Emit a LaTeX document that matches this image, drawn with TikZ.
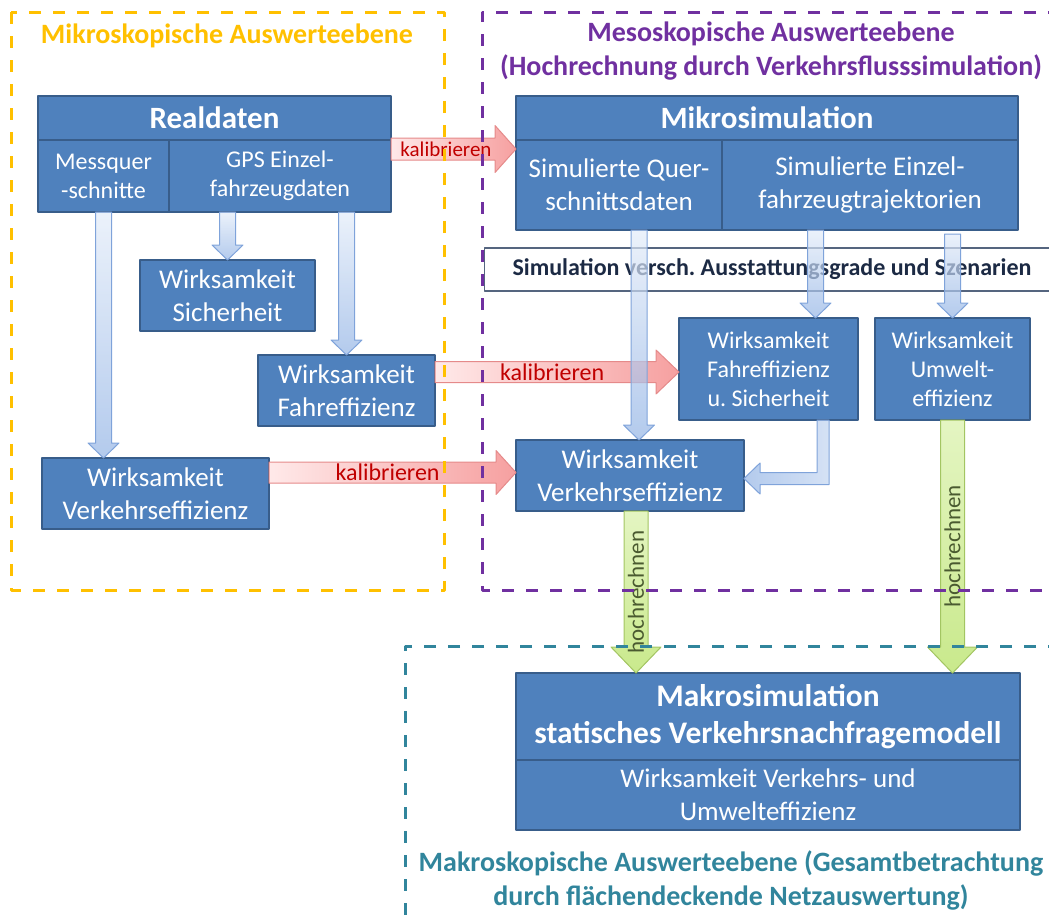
\documentclass[tikz,border=0pt]{standalone}
\usepackage{fontspec}
\setmainfont{Carlito}
\usetikzlibrary{calc}
\definecolor{boxblue}{HTML}{4F81BD}
\definecolor{boxline}{HTML}{385D8A}
\definecolor{mikrogold}{HTML}{FFC000}
\definecolor{mesopurple}{HTML}{7030A0}
\definecolor{makroteal}{HTML}{31859C}
\definecolor{szentext}{HTML}{1C2A44}
\definecolor{szenline}{HTML}{55657F}
\definecolor{bluetop}{HTML}{E3ECF9}
\definecolor{bluebot}{HTML}{93B4E5}
\definecolor{blueline}{HTML}{7FA3DA}
\definecolor{redleft}{HTML}{FFE9E9}
\definecolor{redright}{HTML}{F6A0A0}
\definecolor{redline}{HTML}{E58A8A}
\definecolor{kalibred}{HTML}{C00000}
\definecolor{greentop}{HTML}{E4F5C2}
\definecolor{greenbot}{HTML}{C9E98C}
\definecolor{greenline}{HTML}{A3C562}
\definecolor{hochgreen}{HTML}{4A5A30}

\newcommand{\fatdown}[6]{\path[#1] let \p1=(#2), \p2=(#3) in
  (\x1-#4,\y1) -- (\x1-#4,\y2+#6) -- (\x1-#5,\y2+#6) -- (\x1,\y2) -- (\x1+#5,\y2+#6) -- (\x1+#4,\y2+#6) -- (\x1+#4,\y1) -- cycle;}
\newcommand{\fatright}[6]{\path[#1] let \p1=(#2), \p2=(#3) in
  (\x1,\y1-#4) -- (\x2-#6,\y1-#4) -- (\x2-#6,\y1-#5) -- (\x2,\y1) -- (\x2-#6,\y1+#5) -- (\x2-#6,\y1+#4) -- (\x1,\y1+#4) -- cycle;}

\begin{document}
\begin{tikzpicture}[x=0.5pt,y=-0.5pt,line join=round,
  box/.style={draw=boxline,fill=boxblue,line width=1pt,text=white,outer sep=0pt,inner sep=1pt,align=center,font=\fontsize{13.5}{16.5}\selectfont},
  smallbox/.style={box,font=\fontsize{12}{14.5}\selectfont},
  titlebox/.style={box,font=\bfseries\fontsize{15.5}{18.5}\selectfont},
  bluearrow/.style={top color=bluetop,bottom color=bluebot,draw=blueline,line width=.5pt,fill opacity=.7},
  redarrow/.style={left color=redleft,right color=redright,draw=redline,line width=.5pt},
  greenarrow/.style={top color=greentop,bottom color=greenbot,draw=greenline,line width=.5pt},
  kalib/.style={text=kalibred,inner sep=0pt,font=\fontsize{12}{14}\selectfont},
  hoch/.style={text=hochgreen,rotate=90,inner sep=0pt,font=\fontsize{11.5}{13}\selectfont},
  frame/.style={line width=1.5pt,dash pattern=on 6pt off 6pt},
  framelabel/.style={align=center,font=\bfseries\fontsize{14}{17}\selectfont}]
    \useasboundingbox (0,0) rectangle (1049,917);

    \node[titlebox,minimum width=176.5pt,minimum height=22pt] (rtitle) at (214.5,118) {Realdaten};
    \node[smallbox,anchor=north west,minimum width=65.5pt,minimum height=36pt] (mess) at (rtitle.south west) {Messquer\\-schnitte};
    \node[smallbox,anchor=north west,minimum width=111pt,minimum height=36pt] (gps) at (mess.north east) {GPS Einzel-\\fahrzeugdaten};

    \node[titlebox,minimum width=251pt,minimum height=22pt] (mtitle) at (767,118) {Mikrosimulation};
    \node[box,anchor=north west,minimum width=103pt,minimum height=45pt] (qsd) at (mtitle.south west) {Simulierte Quer-\\schnittsdaten};
    \node[box,anchor=north west,minimum width=148pt,minimum height=45pt] (eft) at (qsd.north east) {Simulierte Einzel-\\fahrzeugtrajektorien};

    \node[draw=szenline,fill=white,line width=.6pt,minimum width=287.5pt,minimum height=21.5pt,text=szentext,font=\bfseries\fontsize{12}{14}\selectfont] (szen) at (772,269.5) {Simulation versch.\ Ausstattungsgrade und Szenarien};

    \node[box,minimum width=87.5pt,minimum height=35.5pt] (sich) at (227.5,295.5) {Wirksamkeit\\Sicherheit};
    \node[box,minimum width=88.5pt,minimum height=35.5pt] (fahr) at (346.5,390.5) {Wirksamkeit\\Fahreffizienz};
    \node[box,minimum width=113.5pt,minimum height=35.5pt] (vleft) at (155.5,493.5) {Wirksamkeit\\Verkehrseffizienz};
    \node[smallbox,minimum width=89.5pt,minimum height=51pt] (fus) at (768.5,369) {Wirksamkeit\\Fahreffizienz\\u.\ Sicherheit};
    \node[smallbox,minimum width=77.5pt,minimum height=51pt] (umw) at (952.5,369) {Wirksamkeit\\Umwelt-\\effizienz};
    \node[box,minimum width=114pt,minimum height=35.5pt] (vmid) at (630,475.5) {Wirksamkeit\\Verkehrseffizienz};

    \node[titlebox,minimum width=252pt,minimum height=43.5pt,font=\bfseries\fontsize{15.7}{18.5}\selectfont] (maktitle) at (768,716.5) {Makrosimulation\\statisches Verkehrsnachfragemodell};
    \node[box,anchor=north,minimum width=252pt,minimum height=35pt] (makwirk) at (maktitle.south) {Wirksamkeit Verkehrs- und\\Umwelteffizienz};

    \coordinate (k1a) at ($(gps.north east)+(0,9)$);
    \coordinate (k1b) at (k1a -| qsd.west);
    \coordinate (k2b) at ($(fus.west)+(0,3)$);
    \coordinate (k2a) at (fahr.east |- k2b);
    \coordinate (k3b) at ($(vmid.west)+(0,-3)$);
    \coordinate (k3a) at (vleft.east |- k3b);
    \fatright{redarrow}{k1a}{k1b}{5.5pt}{11.75pt}{10.5pt}
    \fatright{redarrow}{k2a}{k2b}{5.25pt}{11pt}{11.5pt}
    \fatright{redarrow}{k3a}{k3b}{5.25pt}{11pt}{10pt}
    \node[kalib,font=\fontsize{10.5}{12}\selectfont] at ($(k1a)!0.44!(k1b)$) {kalibrieren};
    \node[kalib] at ($(k2a)!0.48!(k2b)$) {kalibrieren};
    \node[kalib] at ($(k3a)!0.48!(k3b)$) {kalibrieren};

    \coordinate (q4) at ($(qsd.south)+(20,0)$);
    \coordinate (e5) at ($(fus.north)+(47,0)$);
    \coordinate (u6) at ($(umw.north)+(0,-84)$);
    \coordinate (fe) at ($(fus.south)+(54.5,0)$);
    \coordinate (ve) at ($(vmid.east)+(0,3)$);
    \fatdown{bluearrow}{mess.south}{mess.south |- vleft.north}{4pt}{7.75pt}{7.5pt}
    \fatdown{bluearrow}{sich.north |- gps.south}{sich.north}{4pt}{7.75pt}{7.5pt}
    \fatdown{bluearrow}{fahr.north |- gps.south}{fahr.north}{4pt}{7.75pt}{7.5pt}
    \fatdown{bluearrow}{q4}{q4 |- vmid.north}{4pt}{7.75pt}{7.5pt}
    \fatdown{bluearrow}{e5 |- eft.south}{e5}{4pt}{7.75pt}{7.5pt}
    \fatdown{bluearrow}{u6}{umw.north}{4pt}{7.75pt}{7.5pt}
    \path[bluearrow,left color=bluebot,right color=bluetop!60!bluebot] let \p1=(fe), \p2=(ve) in
      (\x1-3pt,\y1) -- (\x1-3pt,\y2+3pt) -- (\x2+8pt,\y2+3pt) -- (\x2+8pt,\y2+7.75pt) -- (\x2,\y2)
      -- (\x2+8pt,\y2-7.75pt) -- (\x2+8pt,\y2-3pt) -- (\x1+3pt,\y2-3pt) -- (\x1+3pt,\y1) -- cycle;

    \coordinate (h1a) at ($(vmid.south)+(6,0)$);
    \coordinate (h1b) at (h1a |- maktitle.north);
    \coordinate (h2b) at (umw.south |- maktitle.north);
    \fatdown{greenarrow}{h1a}{h1b}{6pt}{12.5pt}{13pt}
    \fatdown{greenarrow}{umw.south}{h2b}{6pt}{12.5pt}{13pt}
    \node[hoch] at ($(h1a)!0.5!(h1b)$) {hochrechnen};
    \node[hoch] at ($(umw.south)!0.5!(h2b)$) {hochrechnen};

    \draw[frame,mikrogold] (11,12) rectangle (444,590);
    \draw[frame,mesopurple] (1060,12) -- (482,12) -- (482,590) -- (1060,590);
    \draw[frame,makroteal] (1060,646) -- (405,646) -- (405,930);

    \node[framelabel,text=mikrogold] (mikrolabel) at (227,36) {Mikroskopische Auswerteebene};
    \node[framelabel,text=mesopurple] (mesolabel) at (771,51) {Mesoskopische Auswerteebene\\(Hochrechnung durch Verkehrsflusssimulation)};
    \node[framelabel,text=makroteal] (makrolabel) at (731,880) {Makroskopische Auswerteebene (Gesamtbetrachtung\\durch flächendeckende Netzauswertung)};
\end{tikzpicture}
\end{document}
